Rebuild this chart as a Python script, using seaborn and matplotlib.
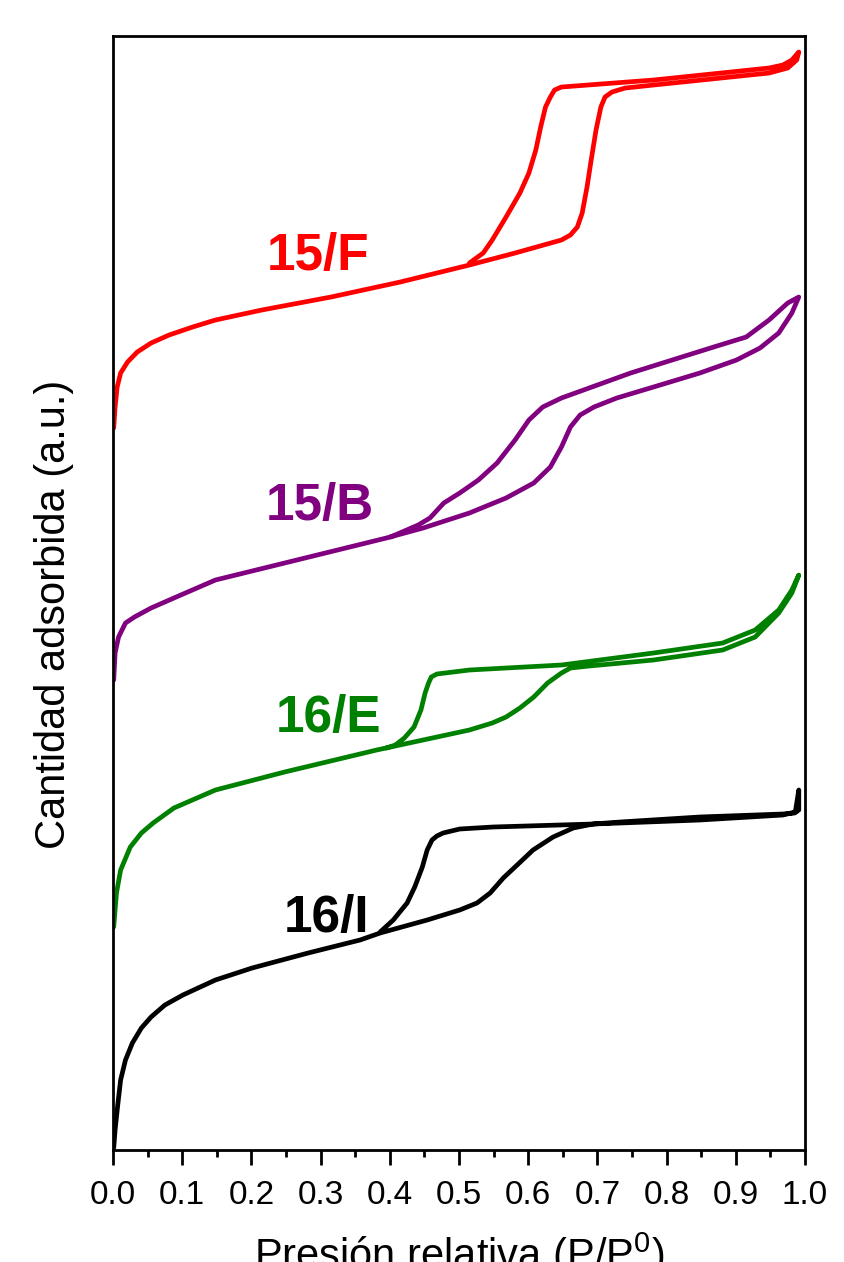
import numpy as np
import pandas as pd
import matplotlib
matplotlib.use('Agg')
import matplotlib.pyplot as plt
from matplotlib.ticker import MultipleLocator, AutoMinorLocator
import seaborn as sns

# N2 isotherms, y in arbitrary units (curves stacked)
# adsorption branch goes up in P/P0, desorption comes back down

x_ads_16I = [0.001, 0.003, 0.0065, 0.011, 0.018, 0.028, 0.041, 0.055, 0.075, 0.101, 0.148, 0.201,
             0.282, 0.357, 0.386, 0.454, 0.501, 0.526, 0.545, 0.564, 0.584, 0.607, 0.636, 0.665,
             0.694, 0.733, 0.848, 0.968, 0.986, 0.991]
y_ads_16I = [2, 20, 43, 70, 90, 107, 122, 133, 145, 155, 170, 182,
             197, 210, 217, 230, 240, 247, 257, 272, 285, 300, 313, 322,
             326, 327, 330, 335, 338, 360]
x_des_16I = [0.991, 0.985, 0.968, 0.848, 0.733, 0.694, 0.549, 0.501, 0.477, 0.468, 0.461, 0.454,
             0.447, 0.436, 0.425, 0.405, 0.386]
y_des_16I = [340, 337, 336, 333, 328, 326, 323, 321, 317, 314, 310, 300,
             283, 263, 247, 230, 218]

x_ads_16E = [0.001, 0.005, 0.011, 0.025, 0.041, 0.058, 0.088, 0.148, 0.248, 0.381, 0.515, 0.548,
             0.568, 0.588, 0.608, 0.628, 0.648, 0.661, 0.688, 0.781, 0.881, 0.928, 0.962, 0.981,
             0.991]
y_ads_16E = [223, 257, 280, 303, 317, 327, 342, 360, 378, 400, 420, 427,
             433, 442, 453, 467, 477, 482, 484, 490, 500, 513, 537, 557,
             575]
x_des_16E = [0.991, 0.981, 0.962, 0.928, 0.881, 0.781, 0.648, 0.515, 0.468, 0.460, 0.456, 0.451,
             0.445, 0.435, 0.421, 0.408, 0.395]
y_des_16E = [575, 560, 540, 520, 507, 497, 485, 480, 476, 473, 467, 457,
             440, 423, 412, 405, 402]

x_ads_15B = [0.001, 0.003, 0.008, 0.018, 0.031, 0.055, 0.088, 0.148, 0.248, 0.395, 0.448, 0.515,
             0.568, 0.608, 0.632, 0.648, 0.661, 0.675, 0.695, 0.728, 0.781, 0.848, 0.901, 0.935,
             0.962, 0.981, 0.991]
y_ads_15B = [470, 497, 513, 527, 533, 542, 552, 570, 587, 612, 622, 637,
             652, 667, 683, 703, 723, 735, 743, 752, 763, 777, 790, 802,
             817, 837, 853]
x_des_15B = [0.991, 0.975, 0.948, 0.915, 0.868, 0.748, 0.648, 0.621, 0.601, 0.581, 0.555, 0.528,
             0.501, 0.478, 0.458, 0.441, 0.401]
y_des_15B = [853, 847, 830, 813, 803, 777, 752, 743, 730, 710, 687, 670,
             657, 647, 632, 625, 613]

x_ads_15F = [0.001, 0.003, 0.006, 0.011, 0.021, 0.035, 0.055, 0.081, 0.115, 0.148, 0.215, 0.315,
             0.415, 0.515, 0.581, 0.648, 0.661, 0.671, 0.678, 0.685, 0.691, 0.698, 0.705, 0.711,
             0.721, 0.740, 0.781, 0.948, 0.975, 0.988, 0.991]
y_ads_15F = [722, 743, 763, 777, 788, 798, 807, 815, 823, 830, 840, 853,
             868, 885, 897, 910, 915, 923, 937, 963, 990, 1020, 1043, 1053,
             1058, 1062, 1065, 1077, 1082, 1090, 1098]
x_des_15F = [0.991, 0.981, 0.968, 0.948, 0.781, 0.648, 0.638, 0.632, 0.625, 0.618, 0.611, 0.601,
             0.588, 0.568, 0.548, 0.535, 0.515]
y_des_15F = [1098, 1090, 1085, 1082, 1070, 1063, 1060, 1053, 1043, 1023, 1000, 977,
             957, 933, 910, 897, 887]

samples = ['16/I', '16/E', '15/B', '15/F']
colors = {'16/I': 'black', '16/E': '#008000', '15/B': '#800080', '15/F': '#ff0000'}

branches = {
    '16/I': (x_ads_16I, y_ads_16I, x_des_16I, y_des_16I),
    '16/E': (x_ads_16E, y_ads_16E, x_des_16E, y_des_16E),
    '15/B': (x_ads_15B, y_ads_15B, x_des_15B, y_des_15B),
    '15/F': (x_ads_15F, y_ads_15F, x_des_15F, y_des_15F),
}

# label anchors (baseline, centred)
label_x = [0.309, 0.311, 0.299, 0.296]
label_y = [218, 418, 630, 880]

rows = []
for s in samples:
    xa, ya, xd, yd = branches[s]
    # one loop per sample: adsorption then desorption
    xs = list(xa) + list(xd)
    ys = list(ya) + list(yd)
    for i, (xv, yv) in enumerate(zip(xs, ys)):
        rows.append({'sample': s, 'order': i, 'P': xv, 'Q': yv})
df = pd.DataFrame(rows)

sns.set_theme(style='ticks')
plt.rcParams['font.family'] = ['Liberation Sans', 'DejaVu Sans']
plt.rcParams['mathtext.fontset'] = 'custom'
plt.rcParams['mathtext.rm'] = 'Liberation Sans'
plt.rcParams['mathtext.it'] = 'Liberation Sans:italic'
plt.rcParams['mathtext.bf'] = 'Liberation Sans:bold'
plt.rcParams['text.color'] = 'black'
plt.rcParams['axes.labelcolor'] = 'black'
plt.rcParams['xtick.color'] = 'black'

fig = plt.figure(figsize=(8.44, 12.62), dpi=100)
ax = fig.add_axes([0.1339, 0.08875, 0.8199, 0.8827])

sns.lineplot(data=df, x='P', y='Q', hue='sample', palette=colors, sort=False,
             estimator=None, units='sample', linewidth=3.4, legend=False, ax=ax,
             solid_joinstyle='round', solid_capstyle='round')

for s, lx, ly in zip(samples, label_x, label_y):
    ax.text(lx, ly, s, color=colors[s], fontsize=37, fontweight='bold',
            ha='center', va='baseline')

ax.set_xlim(0, 1.0)
ax.set_ylim(0, 1114)
ax.xaxis.set_major_locator(MultipleLocator(0.1))
ax.xaxis.set_minor_locator(AutoMinorLocator(2))
ax.set_xticks(np.arange(0, 1.01, 0.1))
ax.set_xticklabels([f'{v:.1f}' for v in np.arange(0, 1.01, 0.1)])
ax.set_yticks([])

for sp in ax.spines.values():
    sp.set_linewidth(2.0)
    sp.set_color('black')
    sp.set_visible(True)
ax.tick_params(axis='x', which='major', length=10.8, width=2.0, direction='out',
               labelsize=24, pad=11, colors='black')
ax.tick_params(axis='x', which='minor', length=5, width=2.0, direction='out')

ax.set_xlabel(r'Presión relativa (P/P$^{0}$)', fontsize=30)
ax.set_ylabel('Cantidad adsorbida (a.u.)', fontsize=30)
ax.xaxis.set_label_coords(0.5, -0.072)
ax.yaxis.set_label_coords(-0.056, 0.481)

fig.savefig('out.png', dpi=100)
